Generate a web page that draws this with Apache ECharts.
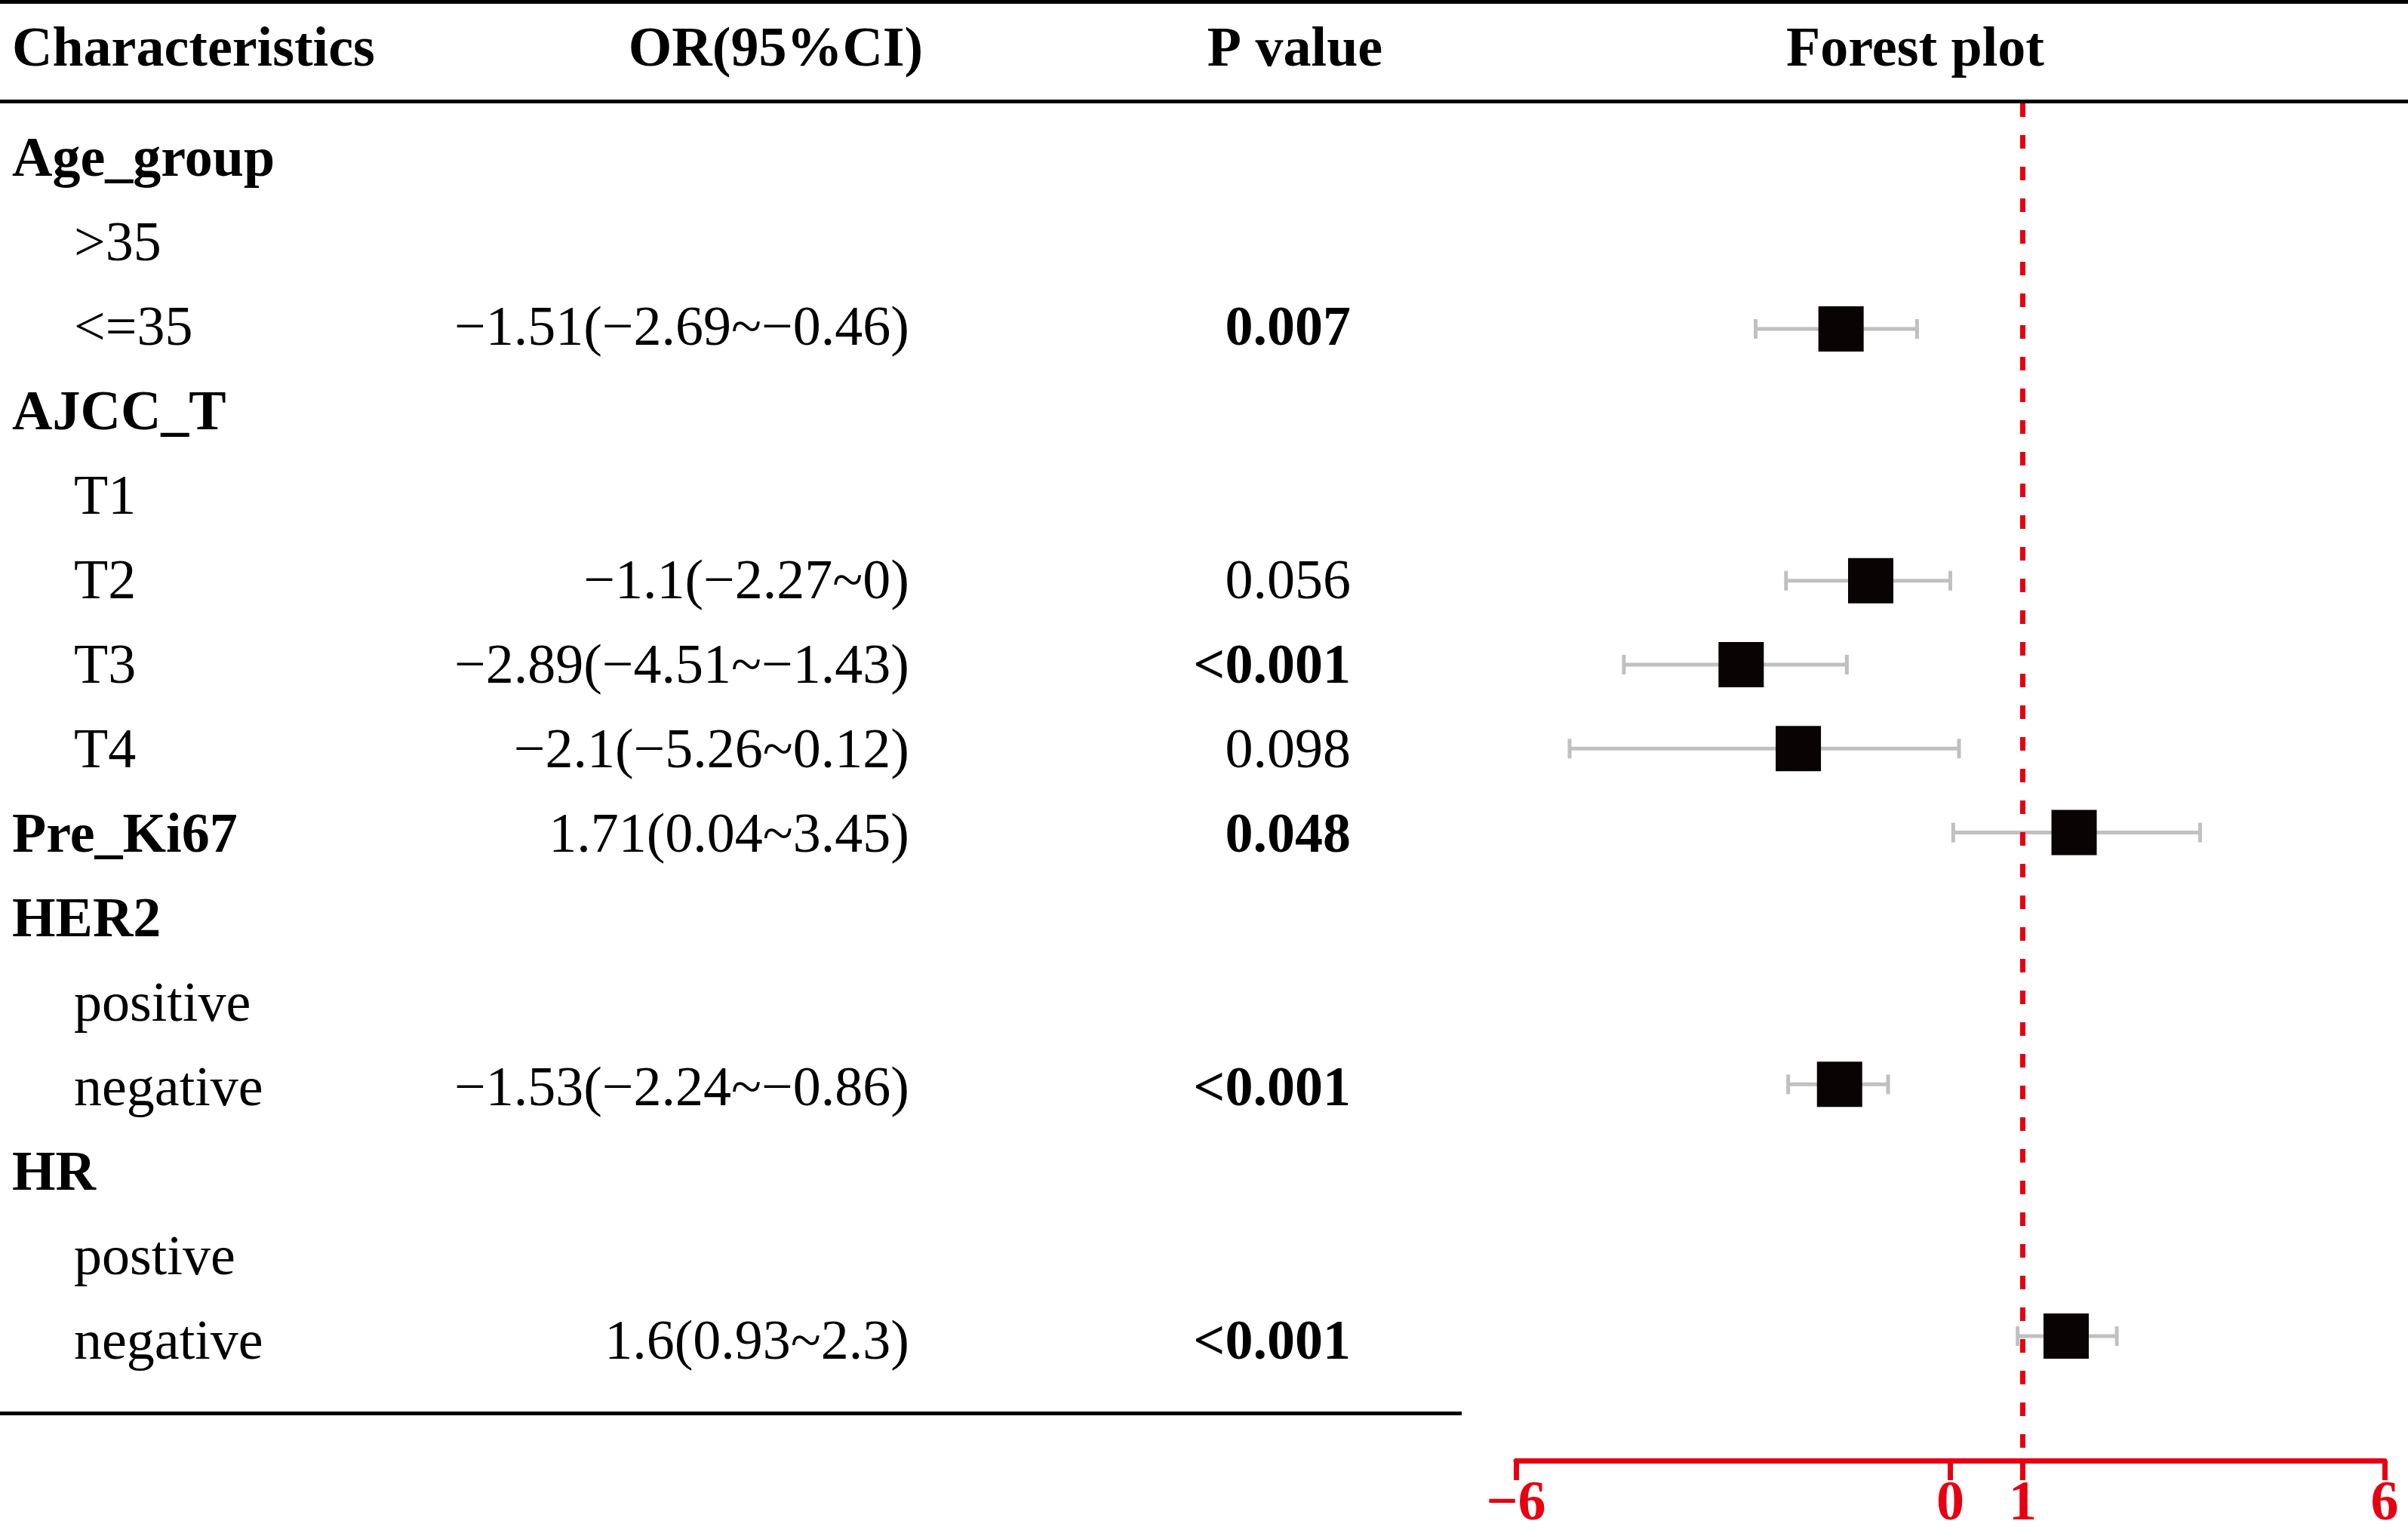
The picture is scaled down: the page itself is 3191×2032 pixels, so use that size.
<!DOCTYPE html>
<html>
<head>
<meta charset="utf-8">
<script src="https://cdn.jsdelivr.net/npm/echarts@6/dist/echarts.min.js"></script>
<style>
  html, body { margin: 0; padding: 0; background: #fff; }
  #main { width: 3191px; height: 2032px; }
</style>
</head>
<body>
<div id="main"></div>
<script>
// table rows (top to bottom)
var rowNames = ['Age_group', '>35', '<=35', 'AJCC_T', 'T1', 'T2', 'T3', 'T4', 'Pre_Ki67', 'HER2', 'positive', 'negative', 'HR', 'postive', 'negative'];
var rowLevel = [0, 1, 1, 0, 1, 1, 1, 1, 0, 0, 1, 1, 0, 1, 1]; // 0 = group title, 1 = level
var orEst  = [null, null, -1.51, null, null, -1.1, -2.89, -2.1, 1.71, null, null, -1.53, null, null, 1.6];
var orLow  = [null, null, -2.69, null, null, -2.27, -4.51, -5.26, 0.04, null, null, -2.24, null, null, 0.93];
var orHigh = [null, null, -0.46, null, null, 0, -1.43, 0.12, 3.45, null, null, -0.86, null, null, 2.3];
var pText  = ['', '', '0.007', '', '', '0.056', '<0.001', '0.098', '0.048', '', '', '<0.001', '', '', '<0.001'];
var headers = ['Characteristics', 'OR(95%CI)', 'P value', 'Forest plot'];
var tickValues = [-6, 0, 1, 6];
var refValue = 1;

var FONT = "'Liberation Serif', 'Times New Roman', serif";
var RED = '#e60012';
var FS = 74;

function num(v) {
  return String(v).replace('-', '\u2212');
}
function orLabel(i) {
  if (orEst[i] === null) return '';
  return num(orEst[i]) + '(' + num(orLow[i]) + '~' + num(orHigh[i]) + ')';
}
function isSig(t) {
  if (!t) return false;
  if (t.charAt(0) === '<') return true;
  return parseFloat(t) < 0.05;
}

var rowIds = rowNames.map(function (n, i) { return 'r' + i; });

// layout (pixels)
var tableTop = 158, rowH = 112;
var plotTop = 137, plotBottom = 1948;
var yMin = -(tableTop + rowH / 2 - plotTop) / rowH;
var yMax = yMin + (plotBottom - plotTop) / rowH;

var whiskers = [], boxes = [];
rowNames.forEach(function (n, i) {
  if (orEst[i] !== null) {
    whiskers.push([orLow[i], orHigh[i], i]);
    boxes.push([orEst[i], i]);
  }
});

function tableGrid(left) {
  return { left: left, width: 1, top: tableTop, height: rowH * rowNames.length };
}
function hiddenX(gi) {
  return { gridIndex: gi, type: 'value', min: 0, max: 1, show: false };
}
function textAxis(gi, align, formatter, rich) {
  return {
    gridIndex: gi, type: 'category', data: rowIds, inverse: true, position: 'left',
    axisLine: { show: false }, axisTick: { show: false }, splitLine: { show: false },
    axisLabel: {
      interval: 0, margin: 0, align: align, formatter: formatter,
      fontFamily: FONT, fontSize: FS, color: '#000', rich: rich
    }
  };
}

var baseRich = { fontFamily: FONT, fontSize: FS, color: '#000' };
var chart = echarts.init(document.getElementById('main'), null, { renderer: 'canvas' });

var option = {
  backgroundColor: '#fff',
  animation: false,
  grid: [
    { left: 2009, right: 31, top: plotTop, bottom: 2032 - plotBottom },
    tableGrid(16),
    tableGrid(1205),
    tableGrid(1790)
  ],
  xAxis: [
    {
      gridIndex: 0, type: 'value', min: -6, max: 6,
      axisLine: { show: true, onZero: false, lineStyle: { color: RED, width: 7 } },
      axisTick: { show: true, customValues: tickValues, length: 26, lineStyle: { color: RED, width: 7 } },
      axisLabel: {
        customValues: tickValues, margin: 22, color: RED, fontFamily: FONT, fontSize: FS, fontWeight: 'bold',
        formatter: function (v) { return num(v); }
      },
      splitLine: { show: false }
    },
    hiddenX(1), hiddenX(2), hiddenX(3)
  ],
  yAxis: [
    { gridIndex: 0, type: 'value', inverse: true, min: yMin, max: yMax, show: false },
    textAxis(1, 'left', function (v, i) {
      return rowLevel[i] === 0 ? '{g|' + rowNames[i] + '}' : '{s|' + rowNames[i] + '}';
    }, {
      g: Object.assign({}, baseRich, { fontWeight: 'bold' }),
      s: Object.assign({}, baseRich, { padding: [0, 0, 0, 82] })
    }),
    textAxis(2, 'right', function (v, i) {
      var t = orLabel(i);
      if (!t) return '';
      return rowLevel[i] === 0 ? '{g|' + t + '}' : '{n|' + t + '}';
    }, {
      g: Object.assign({}, baseRich),
      n: Object.assign({}, baseRich)
    }),
    textAxis(3, 'right', function (v, i) {
      var t = pText[i];
      if (!t) return '';
      return isSig(t) ? '{b|' + t + '}' : '{n|' + t + '}';
    }, {
      b: Object.assign({}, baseRich, { fontWeight: 'bold' }),
      n: Object.assign({}, baseRich)
    })
  ],
  graphic: [
    { type: 'rect', shape: { x: 0, y: 0, width: 3191, height: 5 }, style: { fill: '#000' } },
    { type: 'rect', shape: { x: 0, y: 132, width: 3191, height: 5 }, style: { fill: '#000' } },
    { type: 'rect', shape: { x: 0, y: 1871, width: 1937, height: 5 }, style: { fill: '#000' } },
    { type: 'text', x: 16, y: 68, style: { text: headers[0], font: 'bold ' + FS + 'px ' + FONT, fill: '#000', textAlign: 'left', textVerticalAlign: 'middle' } },
    { type: 'text', x: 1028, y: 68, style: { text: headers[1], font: 'bold ' + FS + 'px ' + FONT, fill: '#000', textAlign: 'center', textVerticalAlign: 'middle' } },
    { type: 'text', x: 1716, y: 68, style: { text: headers[2], font: 'bold ' + FS + 'px ' + FONT, fill: '#000', textAlign: 'center', textVerticalAlign: 'middle' } },
    { type: 'text', x: 2538, y: 68, style: { text: headers[3], font: 'bold ' + FS + 'px ' + FONT, fill: '#000', textAlign: 'center', textVerticalAlign: 'middle' } }
  ],
  series: [
    {
      type: 'custom',
      xAxisIndex: 0, yAxisIndex: 0,
      z: 2,
      data: whiskers,
      renderItem: function (params, api) {
        var a = api.coord([api.value(0), api.value(2)]);
        var b = api.coord([api.value(1), api.value(2)]);
        var st = { stroke: '#c0c0c0', lineWidth: 5 };
        return {
          type: 'group',
          children: [
            { type: 'line', shape: { x1: a[0], y1: a[1], x2: b[0], y2: b[1] }, style: st },
            { type: 'line', shape: { x1: a[0], y1: a[1] - 13, x2: a[0], y2: a[1] + 13 }, style: st },
            { type: 'line', shape: { x1: b[0], y1: b[1] - 13, x2: b[0], y2: b[1] + 13 }, style: st }
          ]
        };
      },
      markLine: {
        silent: true,
        symbol: 'none',
        label: { show: false },
        lineStyle: { color: RED, width: 7, type: [18, 24] },
        data: [{ xAxis: refValue }]
      }
    },
    {
      type: 'scatter',
      xAxisIndex: 0, yAxisIndex: 0,
      z: 4,
      symbol: 'rect',
      symbolSize: 60,
      itemStyle: { color: '#080404', opacity: 1 },
      data: boxes
    }
  ]
};
chart.setOption(option);
</script>
</body>
</html>
